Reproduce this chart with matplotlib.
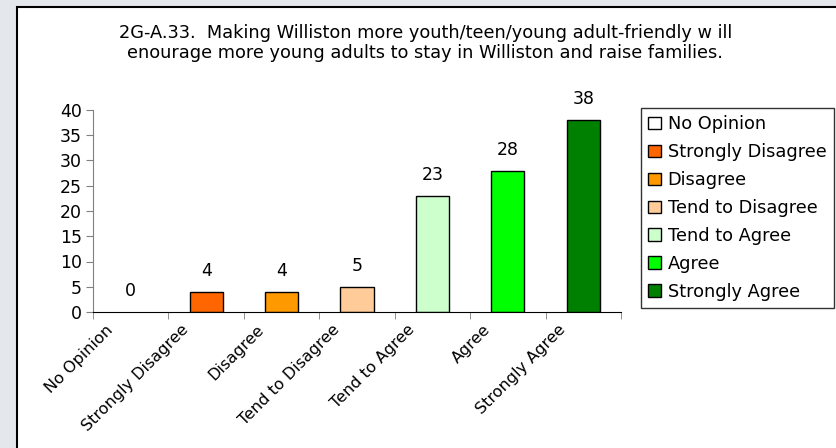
import matplotlib.pyplot as plt
import matplotlib.transforms as mtransforms
from matplotlib.patches import Rectangle, Patch

categories = ['No Opinion', 'Strongly Disagree', 'Disagree', 'Tend to Disagree',
              'Tend to Agree', 'Agree', 'Strongly Agree']
values = [0, 4, 4, 5, 23, 28, 38]
colors = ['#FFFFFF', '#FF6600', '#FF9900', '#FFCC99', '#CCFFCC', '#00FF00', '#008000']
title = ('2G-A.33.  Making Williston more youth/teen/young adult-friendly w ill\n'
         'enourage more young adults to stay in Williston and raise families.')

plt.rcParams['font.family'] = ['DejaVu Sans']
fs = 12.5

fig = plt.figure(figsize=(8.37, 4.48), dpi=100, facecolor='#E4E8EC')
# white panel with black frame
fig.patches.append(Rectangle((17/837, -0.05), 1.0, 1 - 7/448 + 0.05, transform=fig.transFigure,
                             facecolor='white', edgecolor='black', linewidth=1.5, zorder=-5))

ax = fig.add_axes([93/837, 1 - 312/448, (621 - 93)/837, (312 - 110)/448])
ax.set_facecolor('none')
x = list(range(len(categories)))
ax.bar(x, values, width=0.44, color=colors, edgecolor='black',
       linewidth=[0 if v == 0 else 1.0 for v in values])
for xi, v in zip(x, values):
    ax.text(xi, v + 2.3, str(v), ha='center', va='bottom', fontsize=fs)

ax.set_xlim(-0.5, len(categories) - 0.5)
ax.set_ylim(0, 40)
ax.set_yticks(range(0, 41, 5))
ax.tick_params(axis='y', labelsize=fs, length=5, color='#808080', pad=3)
ax.set_xticks(x)
ax.set_xticklabels(categories, rotation=45, ha='right', va='center',
                   rotation_mode='anchor', fontsize=11.5)
ax.tick_params(axis='x', length=0, pad=11)
shift = mtransforms.ScaledTranslation(-0.2, 0, fig.dpi_scale_trans)
for lbl in ax.get_xticklabels():
    lbl.set_transform(lbl.get_transform() + shift)
ax.set_xticks([i - 0.5 for i in range(len(categories) + 1)], minor=True)
ax.tick_params(axis='x', which='minor', length=5, color='#808080')
for s in ['top', 'right']:
    ax.spines[s].set_visible(False)
ax.spines['left'].set_color('#808080')
ax.spines['bottom'].set_color('black')

fig.text(0.508, 1 - 43/448, title, ha='center', va='center', fontsize=12.75, linespacing=1.15)

handles = [Patch(facecolor=c, edgecolor='black', label=l) for c, l in zip(colors, categories)]
leg = fig.legend(handles=handles, loc='upper left', bbox_to_anchor=(641/837, 1 - 108/448),
                 frameon=True, fancybox=False, fontsize=12.8, handlelength=0.7, handleheight=0.7,
                 handletextpad=0.4, labelspacing=0.56, borderpad=0.4, borderaxespad=0)
leg.get_frame().set_edgecolor('black')
leg.get_frame().set_linewidth(1.0)

fig.savefig('out.png', dpi=100, facecolor=fig.get_facecolor())
